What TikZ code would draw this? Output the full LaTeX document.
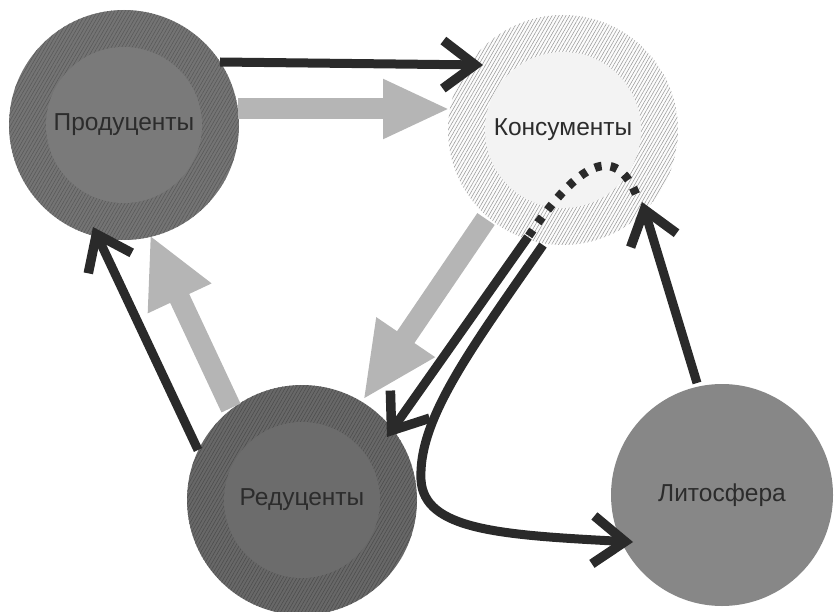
\documentclass[tikz,border=0pt]{standalone}
\usepackage{fontspec}
\setmainfont{Liberation Sans}
\usetikzlibrary{arrows.meta,patterns.meta,calc}
\definecolor{ink}{HTML}{2A2A2A}
\definecolor{flow}{HTML}{B5B5B5}
\definecolor{prodring}{HTML}{747474}
\definecolor{prodhatch}{HTML}{585858}
\definecolor{prodcore}{HTML}{7A7A7A}
\definecolor{redring}{HTML}{686868}
\definecolor{redhatch}{HTML}{4C4C4C}
\definecolor{redcore}{HTML}{6C6C6C}
\definecolor{consring}{HTML}{FCFCFC}
\definecolor{conshatch}{HTML}{9A9A9A}
\definecolor{conscore}{HTML}{F3F3F3}
\definecolor{litho}{HTML}{878787}
\definecolor{txt}{HTML}{2C2C2C}
\begin{document}
\begin{tikzpicture}[x=1pt,y=-1pt,
  ring/.style={circle, inner sep=0pt, minimum size=230pt, fill=#1},
  hatch/.style={postaction={pattern={Lines[angle=60,distance=3pt,line width=0.55pt]}, pattern color=#1}},
  core/.style={circle, inner sep=0pt, minimum size=156pt, fill=#1,
    font=\fontsize{24.5}{28}\selectfont, text=txt},
  blackflow/.style={draw=ink, line width=9pt,
    -{Straight Barb[length=32pt,width=48pt,line width=9.5pt]}},
  grayflow/.style={draw=flow, line width=21pt},
  dotflow/.style={draw=ink, line width=8.5pt, dash pattern=on 7pt off 9pt}]
\useasboundingbox (0,0) rectangle (834,612);
% circles
\node[ring=prodring, hatch=prodhatch] (prod) at (124,125) {};
\node[core=prodcore] (prodin) at (prod.center) {Продуценты};
\node[ring=consring, hatch=conshatch] (cons) at (563,130) {};
\node[core=conscore] (consin) at (cons.center) {Консументы};
\node[ring=redring, hatch=redhatch] (red) at (302,500) {};
\node[core=redcore] (redin) at (red.center) {Редуценты};
\node[circle, inner sep=0pt, minimum size=222pt, fill=litho,
  font=\fontsize{24.5}{28}\selectfont, text=txt] (lith) at (722,495) {Литосфера};
% gray flows
\draw[grayflow, -{Triangle[length=67pt,width=55pt]}]
  ([shift={(114,-16)}]prod.center) -- ([shift={(-113,-21)}]cons.center);
\draw[grayflow, -{Triangle[length=76pt,width=65pt]}]
  ([shift={(-77,89)}]cons.center) -- ([shift={(61,-100)}]red.center);
\draw[grayflow, -{Triangle[length=70pt,width=65pt]}]
  ([shift={(-71,-92)}]red.center) -- ([shift={(26,110)}]prod.center);
% black flows
\draw[blackflow] ([shift={(96,-63)}]prod.center) -- ([shift={(-80,-65)}]cons.center);
\draw[blackflow] ([shift={(-104,-50)}]red.center) -- ([shift={(-31,102)}]prod.center);
\draw[blackflow] ([shift={(-25,-112)}]lith.center) -- ([shift={(79,72)}]cons.center);
\coordinate (via) at ([shift={(-35,107)}]cons.center);
\coordinate (dotstart) at ([shift={(73,64)}]cons.center);
\draw[dotflow] (dotstart) .. controls (615,145) and (580,160) .. (via);
\draw[blackflow] (via) -- ([shift={(85,-63)}]red.center);
\draw[blackflow] ([shift={(-20,115)}]cons.center)
  .. controls (470,350) and (418,420) .. (421,480)
  .. controls (424,530) and (500,535) .. ([shift={(-89,47)}]lith.center);
\end{tikzpicture}
\end{document}
